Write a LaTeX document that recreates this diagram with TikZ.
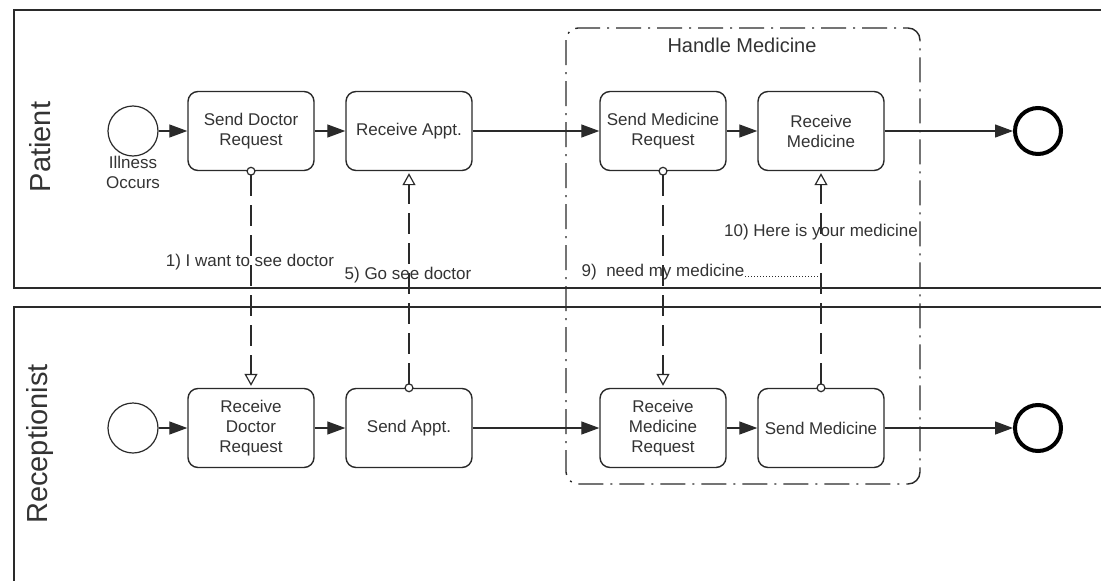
\documentclass[tikz,border=0pt]{standalone}
\usepackage{fontspec}
\setmainfont{Liberation Sans}
\usetikzlibrary{arrows.meta}
\definecolor{FlowLine}{HTML}{2A2A2A}
\definecolor{FlowText}{HTML}{333333}
\tikzset{
  >=Triangle,
  taskbox/.style={draw=FlowLine,line width=1.4pt,rounded corners=10pt,fill=white,
    minimum width=126pt,minimum height=79pt,align=center,text=FlowText,
    font=\fontsize{17}{20}\selectfont},
  startevent/.style={circle,draw=FlowLine,line width=1.2pt,minimum size=50pt,inner sep=0pt},
  endevent/.style={circle,draw=black,line width=4pt,minimum size=46pt,inner sep=0pt},
  seqflow/.style={-{Triangle[length=18pt,width=13pt]},line width=1.3pt,draw=FlowLine},
  msgflow/.style={{Circle[open,fill=white,length=9pt]}-{Triangle[open,length=12pt,width=13pt]},
    line width=1.2pt,draw=FlowLine,dash pattern=on 21pt off 9pt,shorten <=-4.5pt,shorten >=2pt},
  msglabel/.style={text=FlowText,font=\fontsize{17}{20}\selectfont,inner sep=1pt},
  lane/.style={draw=FlowLine,line width=1.5pt},
  lanelabel/.style={rotate=90,text=FlowText,font=\fontsize{29}{34}\selectfont},
  groupbox/.style={draw=FlowLine,line width=1.4pt,rounded corners=12pt,
    dash pattern=on 25pt off 7pt on 2pt off 7pt},
  grouplabel/.style={text=FlowText,font=\fontsize{20}{24}\selectfont},
  leader/.style={draw=FlowLine,line width=1pt,dotted}
}

\begin{document}
\begin{tikzpicture}[x=1pt,y=-1pt]
  \useasboundingbox (0,0) rectangle (1101,581);
  \clip (0,0) rectangle (1101,581);

  % pools
  \draw[lane] (1110,10) -- (14,10) -- (14,288) -- (1110,288);
  \draw[lane] (1110,307) -- (14,307) -- (14,600);
  \node[lanelabel] (patient) at (40,147) {Patient};
  \node[lanelabel] (recept) at (40,444) {Receptionist};

  % group
  \draw[groupbox] (566,28) rectangle (920,484);
  \node[grouplabel] (handle) at (742,45) {Handle Medicine};

  % patient lane
  \node[startevent] (pstart) at (133,131) {};
  \node[msglabel,align=center] (illness) at (133,172) {Illness\\Occurs};
  \node[taskbox] (sendreq) at (251,131) {Send Doctor\\Request};
  \node[taskbox] (recappt) at (409,131) {Receive Appt.};
  \node[taskbox] (sendmed) at (663,131) {Send Medicine\\Request};
  \node[taskbox] (recmed) at (821,131) {Receive\\Medicine};
  \node[endevent] (pend) at (1038,131) {};

  % receptionist lane
  \node[startevent] (rstart) at (133,428) {};
  \node[taskbox] (recreq) at (251,428) {Receive\\Doctor\\Request};
  \node[taskbox] (sendappt) at (409,428) {Send Appt.};
  \node[taskbox] (recmedreq) at (663,428) {Receive\\Medicine\\Request};
  \node[taskbox] (givemed) at (821,428) {Send Medicine};
  \node[endevent] (rend) at (1038,428) {};

  \draw[seqflow] (pstart) -- (sendreq);
  \draw[seqflow] (sendreq) -- (recappt);
  \draw[seqflow] (recappt) -- (sendmed);
  \draw[seqflow] (sendmed) -- (recmed);
  \draw[seqflow] (recmed) -- (pend);

  \draw[seqflow] (rstart) -- (recreq);
  \draw[seqflow] (recreq) -- (sendappt);
  \draw[seqflow] (sendappt) -- (recmedreq);
  \draw[seqflow] (recmedreq) -- (givemed);
  \draw[seqflow] (givemed) -- (rend);

  % messages
  \draw[msgflow] (sendreq.south) -- (recreq.north);
  \draw[msgflow] (sendappt.north) -- (recappt.south);
  \draw[msgflow] (sendmed.south) -- (recmedreq.north);
  \draw[msgflow] (givemed.north) -- (recmed.south);

  \node[msglabel] (msg1) at (250,262) {1) I want to see doctor};
  \node[msglabel] (msg5) at (408,275) {5) Go see doctor};
  \node[msglabel] (msg9) at (663,272) {9)\ \ need my medicine};
  \node[msglabel] (msg10) at (821,232) {10) Here is your medicine};
  \draw[leader] (msg9.base east) -- (msg9.base east -| givemed.north);

\end{tikzpicture}
\end{document}
